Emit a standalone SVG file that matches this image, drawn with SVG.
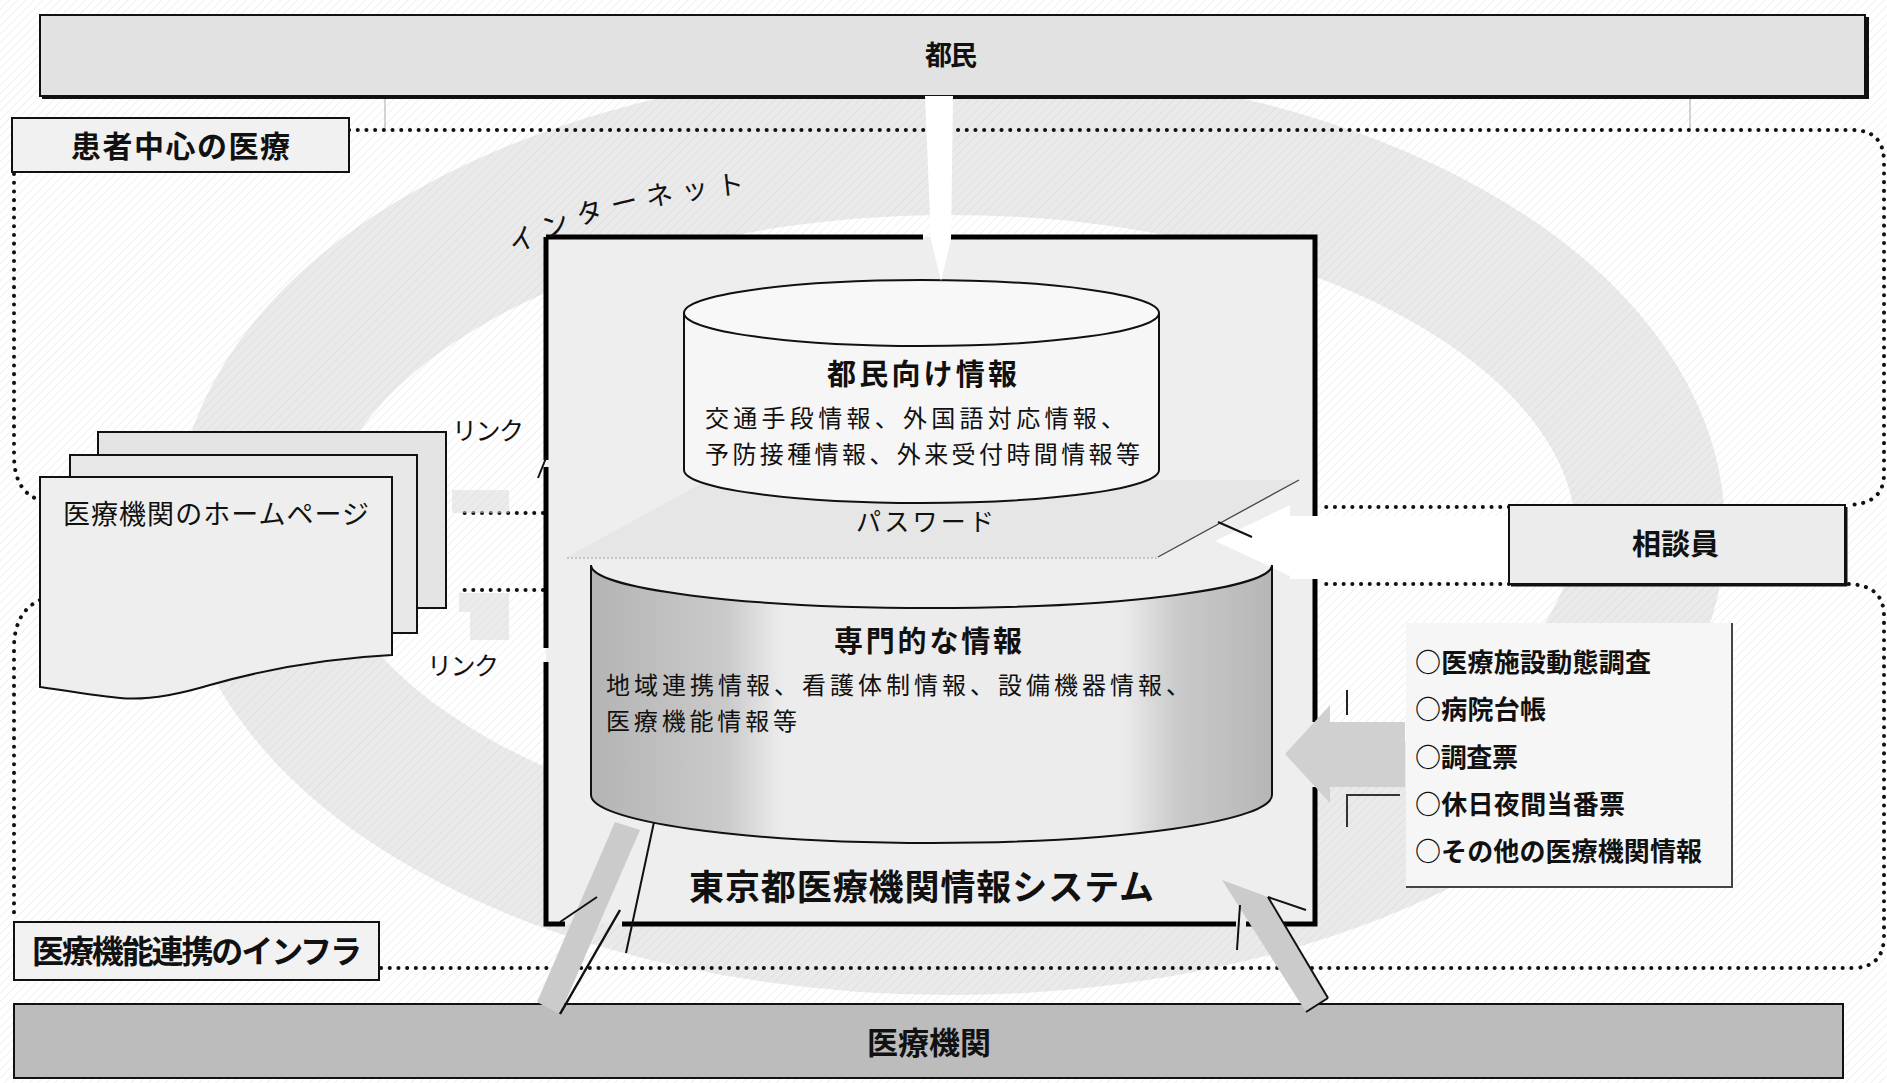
<svg xmlns="http://www.w3.org/2000/svg" width="1887" height="1083" viewBox="0 0 1887 1083">
<defs>
<style>
.b{font-family:"Noto Sans CJK JP","Noto Sans CJK SC",sans-serif;font-weight:700;fill:#111}
.n{font-family:"Noto Sans CJK JP","Noto Sans CJK SC",sans-serif;font-weight:400;fill:#111}
.dot{fill:none;stroke:#111;stroke-width:4;stroke-dasharray:0.1 8.6;stroke-linecap:round}
.frame{fill:none;stroke:#000;stroke-width:5}
.ln{stroke:#111;stroke-width:2}
.box{stroke:#111;stroke-width:2}
</style>
<pattern id="hatch" width="6" height="6" patternUnits="userSpaceOnUse" patternTransform="rotate(45)">
<line x1="0" y1="0" x2="0" y2="6" stroke="#c8c8c8" stroke-width="1.2"/>
</pattern>
<linearGradient id="cyl" x1="0" x2="1" y1="0" y2="0">
<stop offset="0" stop-color="#b4b4b4"/><stop offset="0.2" stop-color="#cacaca"/><stop offset="0.28" stop-color="#ececec"/><stop offset="0.78" stop-color="#ececec"/><stop offset="0.86" stop-color="#cacaca"/><stop offset="1" stop-color="#b6b6b6"/>
</linearGradient>
</defs>

<g id="background">
<rect x="0" y="0" width="1887" height="1083" fill="#ffffff"/>
<rect x="0" y="0" width="1887" height="1083" fill="url(#hatch)" opacity="0.45"/>
<ellipse cx="950" cy="530" rx="700" ry="390" fill="none" stroke="#c4c4c4" stroke-width="150" opacity="0.35"/>
<line x1="385" y1="96" x2="385" y2="130" stroke="#aaa" stroke-width="1"/>
<line x1="1690" y1="96" x2="1690" y2="130" stroke="#aaa" stroke-width="1"/>
</g>

<g id="region-patient">
<path class="dot" d="M349,130 H1852 Q1884,130 1884,162 V474 Q1884,505 1846,505"/>
<path class="dot" d="M1509,507 H1320"/>
<path class="dot" d="M543,513 H460"/>
<path class="dot" d="M14,174 V455 Q14,492 40,500"/>
</g>
<g id="region-infra">
<path class="dot" d="M40,600 Q14,612 14,648 V920"/>
<path class="dot" d="M381,968 H1852 Q1884,968 1884,936 V616 Q1884,584 1846,584"/>
<path class="dot" d="M1509,584 H1320"/>
<path class="dot" d="M543,590 H460"/>
</g>

<g id="node-tomin">
<rect x="40" y="15" width="1825" height="81" fill="#e2e2e2" class="box"/>
<path d="M42,97 H1867 V17" fill="none" stroke="#111" stroke-width="4"/>
<text class="b" x="951" y="65" font-size="27" text-anchor="middle" textLength="52">都民</text>
</g>

<g id="label-patient">
<rect x="12" y="118" width="337" height="54" fill="#f1f1f1" class="box"/>
<text class="b" x="71" y="157" font-size="30" textLength="219">患者中心の医療</text>
</g>

<g id="label-infra">
<rect x="14" y="922" width="365" height="58" fill="#f2f2f2" class="box"/>
<text class="b" x="32" y="963" font-size="32" textLength="330">医療機能連携のインフラ</text>
</g>

<g id="node-iryokikan">
<rect x="14" y="1004" width="1829" height="74" fill="#bcbcbc" class="box"/>
<text class="b" x="929" y="1054" font-size="31" text-anchor="middle" textLength="124">医療機関</text>
</g>

<g id="node-system">
<rect x="546" y="237" width="769" height="687" fill="#eeeeee"/>
<path class="frame" d="M546,237 H923 M951,237 H1315 V516 M1315,579 V722 M1315,787 V924 H1246 M1236,924 H622 M565,924 H546 V662 M546,648 V467 M546,460 V237"/>
<text class="b" x="689" y="900" font-size="35" textLength="465">東京都医療機関情報システム</text>
<path id="netpath" d="M515,255 Q600,205 758,192" fill="none"/>
<text class="n" font-size="27" fill="#222"><textPath href="#netpath" textLength="240">インターネット</textPath></text>
</g>

<g id="node-password">
<polygon points="567,557 1158,557 1299,480 708,480" fill="#e6e6e6"/>
<line x1="1158" y1="557" x2="1299" y2="480" stroke="#444" stroke-width="1.3"/>
<line x1="567" y1="558" x2="1158" y2="558" stroke="#999" stroke-width="1" stroke-dasharray="2 2"/>
<text class="n" x="856" y="531" font-size="25" textLength="138">パスワード</text>
</g>

<g id="node-public-info">
<path d="M684,313 V470 A237.5,33 0 0 0 1159,470 V313" fill="#f6f6f6" stroke="#111" stroke-width="2"/>
<ellipse cx="921.5" cy="313" rx="237.5" ry="33" fill="#f8f8f8" stroke="#111" stroke-width="2"/>
<text class="b" x="922" y="385" font-size="29" text-anchor="middle" textLength="190">都民向け情報</text>
<text class="n" x="705" y="427" font-size="24" textLength="420">交通手段情報、外国語対応情報、</text>
<text class="n" x="705" y="463" font-size="24" textLength="435">予防接種情報、外来受付時間情報等</text>
</g>

<g id="connectors">
<polygon points="925,96 953,96 951,240 941,281 931,240" fill="#ffffff"/>
<polygon points="1509,516 1290,516 1290,505 1215,541 1290,576 1290,579 1509,579" fill="#ffffff"/>
<line x1="1218" y1="522" x2="1252" y2="537" stroke="#111" stroke-width="2"/>
<polygon points="1405,722 1330,722 1330,705 1285,754 1330,803 1330,787 1405,787" fill="#d0d0d0"/>
<line x1="1347" y1="690" x2="1347" y2="715" stroke="#222" stroke-width="2"/>
<polyline points="1347,827 1347,795 1400,795" fill="none" stroke="#333" stroke-width="2"/>
<polygon points="452,490 509,490 509,513 452,513" fill="#d8d8d8" opacity="0.5"/>
<polygon points="459,593 509,593 509,640 470,640 470,612 459,612" fill="#d8d8d8" opacity="0.5"/>
<line x1="538" y1="478" x2="546" y2="458" stroke="#111" stroke-width="2"/>
<polygon points="537,1002 560,1014 640,830 615,822" fill="#cbcbcb"/>
<line x1="654" y1="822" x2="626" y2="953" stroke="#111" stroke-width="2"/>
<line x1="620" y1="910" x2="560" y2="1014" stroke="#111" stroke-width="2.5"/>
<line x1="560" y1="922" x2="597" y2="897" stroke="#111" stroke-width="2"/>
<polygon points="1222,880 1268,897 1328,998 1306,1012" fill="#cbcbcb"/>
<line x1="1268" y1="897" x2="1328" y2="998" stroke="#111" stroke-width="2"/>
<line x1="1268" y1="897" x2="1306" y2="910" stroke="#111" stroke-width="2"/>
<line x1="1328" y1="998" x2="1306" y2="1012" stroke="#111" stroke-width="2"/>
<line x1="1240" y1="905" x2="1237" y2="950" stroke="#111" stroke-width="2"/>
</g>

<g id="node-professional-info">
<path d="M591,565 A340.5,43 0 0 0 1272,565 V795 A340.5,48 0 0 1 591,795 Z" fill="url(#cyl)"/>
<path d="M591,565 V795 A340.5,48 0 0 0 1272,795 V565" fill="none" stroke="#111" stroke-width="2"/>
<path d="M591,565 A340.5,43 0 0 0 1272,565" fill="none" stroke="#111" stroke-width="2"/>
<text class="b" x="928" y="652" font-size="29" text-anchor="middle" textLength="188">専門的な情報</text>
<text class="n" x="606" y="694" font-size="24" textLength="584">地域連携情報、看護体制情報、設備機器情報、</text>
<text class="n" x="606" y="730" font-size="24" textLength="191">医療機能情報等</text>
</g>

<g id="node-homepages">
<rect x="98" y="432" width="348" height="176" fill="#e4e4e4"/>
<path class="ln" fill="none" d="M98,455 V432 H446 V608 H417"/>
<rect x="70" y="455" width="347" height="178" fill="#e8e8e8"/>
<path class="ln" fill="none" d="M70,477 V455 H417 V633 H392"/>
<path class="ln" fill="#eeeeee" d="M40,477 H392 V655 C330,658 270,668 210,685 C170,697 140,700 120,698 C90,695 60,690 40,687 Z"/>
<text class="n" x="63" y="524" font-size="27" textLength="306">医療機関のホームページ</text>
<text class="n" x="452" y="440" font-size="25" textLength="72">リンク</text>
<text class="n" x="427" y="675" font-size="25" textLength="72">リンク</text>
</g>

<g id="node-soudanin">
<rect x="1509" y="505" width="336" height="79" fill="#ececec" class="box"/>
<path d="M1511,585 H1846 V507" fill="none" stroke="#111" stroke-width="3"/>
<text class="b" x="1632" y="555" font-size="29" textLength="87">相談員</text>
</g>

<g id="node-sources">
<rect x="1406" y="623" width="326" height="264" fill="#f6f6f6"/>
<polyline points="1406,887 1732,887 1732,623" fill="none" stroke="#444" stroke-width="2"/>
<text class="b" x="1415" y="672" font-size="26" textLength="236">○医療施設動態調査</text>
<text class="b" x="1415" y="719" font-size="26" textLength="131">○病院台帳</text>
<text class="b" x="1415" y="767" font-size="26" textLength="103">○調査票</text>
<text class="b" x="1415" y="814" font-size="26" textLength="210">○休日夜間当番票</text>
<text class="b" x="1415" y="861" font-size="26" textLength="287">○その他の医療機関情報</text>
</g>
</svg>
